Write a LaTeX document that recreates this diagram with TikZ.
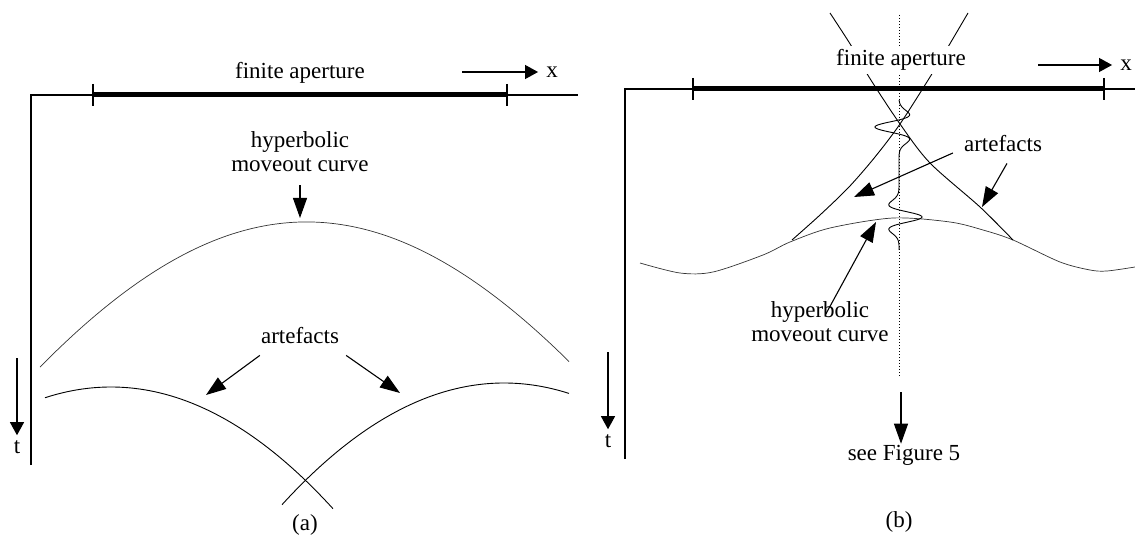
\documentclass[tikz,border=0pt]{standalone}
\usepackage{fontspec}
\setmainfont{Liberation Serif}
\usetikzlibrary{arrows.meta}

\begin{document}
\begin{tikzpicture}[x=1pt,y=-1pt,
  every node/.style={font=\fontsize{23}{24}\selectfont, inner sep=1pt},
  axisline/.style={line width=1.6pt},
  aperture/.style={line width=5pt},
  thincurve/.style={line width=0.7pt, black!80},
  artcurve/.style={line width=0.9pt},
  pointer/.style={line width=1.1pt, -{Triangle[length=20pt,width=14pt]}},
  dirarrow/.style={line width=1.1pt, -{Triangle[length=13pt,width=14pt]}},
  declare function={ricker(\u)=(1-2*\u*\u)*exp(-\u*\u);}]
  \useasboundingbox (0,0) rectangle (1135,537);

  \draw[axisline] (31,465) -- (31,95) -- (578,95);
  \draw[aperture] (93,95) -- (507,95);
  \draw[axisline] (93,84) -- (93,106) (507,84) -- (507,106);
  \node (apA) at (300,73) {finite aperture};
  \coordinate (xtailA) at (462,72);
  \node (xA) at (552,72) {x};
  \draw[dirarrow, shorten >=7pt] (xtailA) -- (xA);
  \coordinate (ttailA) at (17,358);
  \node (tA) at (17,447) {t};
  \draw[dirarrow, shorten >=4pt] (ttailA) -- (tA);

  \draw[thincurve] plot[domain=40:569, samples=120]
    (\x, {222 + 890*(sqrt(1+((\x-302)/450)^2)-1) - 0.02*(\x-302)});
  \draw[artcurve] plot[domain=45:333, samples=100] (\x, {387 + 121.7*((\x-111)/222)^2});
  \draw[artcurve] plot[domain=282:569, samples=100] (\x, {383 + 121.7*((\x-504)/222)^2});

  \node (hypA) [align=center] at (300,152) {hyperbolic\\moveout curve};
  \coordinate (apexA) at (300,218);
  \draw[pointer] ([yshift=-12pt]hypA.south) -- (apexA);
  \node (artA) at (300,336) {artefacts};
  \coordinate (tipAL) at (206,395);
  \coordinate (tipAR) at (400,393);
  \draw[pointer] ([yshift=-10pt]artA.south west) -- (tipAL);
  \draw[pointer] ([xshift=6pt,yshift=-10pt]artA.south east) -- (tipAR);
  \node (labA) at (305,525) {(a)};

  \draw[axisline] (625,459) -- (625,89) -- (1135,89);
  \draw[aperture] (693,89) -- (1104,89);
  \draw[axisline] (693,78) -- (693,100) (1104,78) -- (1104,100);
  \coordinate (xtailB) at (1038,65);
  \node (xB) at (1126,65) {x};
  \draw[dirarrow, shorten >=7pt] (xtailB) -- (xB);
  \coordinate (ttailB) at (608,352);
  \node (tB) at (608,441) {t};
  \draw[dirarrow, shorten >=4pt] (ttailB) -- (tB);

  \draw[thincurve] plot[smooth] coordinates {(640,263) (680,273) (713,272) (763,255) (790,242) (830,228) (893,218) (950,222) (983,230) (1013,240) (1060,262) (1090,270) (1107,271) (1135,267)};
  \draw[artcurve] plot[smooth] coordinates {(830,13) (852,47) (869,77) (900,124) (930,163) (980,207) (1013,240)};
  \draw[artcurve] plot[smooth] coordinates {(968,13) (948,47) (930,77) (900,124) (875,157) (849,187) (820,215) (792,240)};
  \coordinate (dotTop) at (899,15);
  \coordinate (dotBot) at (899,377);
  \draw[line width=0.8pt, dash pattern=on 1pt off 2pt] (dotTop) -- (dotBot);
  \draw[line width=0.9pt] plot[domain=100:250, samples=201, variable=\t]
    ({899 - 24*ricker((\t-127)/10) + 23*ricker((\t-217)/10)}, \t);
  \node (apB) [fill=white, inner ysep=3pt] at (901,60) {finite aperture};

  \node (artB) at (1003,144) {artefacts};
  \coordinate (tipBL) at (854,197);
  \coordinate (tipBR) at (982,207);
  \draw[pointer] ([xshift=-10pt,yshift=-9pt]artB.west) -- (tipBL);
  \draw[pointer] ([xshift=4pt,yshift=-10pt]artB.south) -- (tipBR);
  \node (hypB) [align=center] at (820,322) {hyperbolic\\moveout curve};
  \coordinate (apexB) at (876,222);
  \draw[pointer] ([xshift=6pt,yshift=-13pt]hypB.north) -- (apexB);
  \coordinate (figtail) at (901,392);
  \node (seeB) at (904,455) {see Figure 5};
  \draw[pointer] (figtail) -- (figtail |- seeB.north);
  \node (labB) at (899,522) {(b)};
\end{tikzpicture}
\end{document}
